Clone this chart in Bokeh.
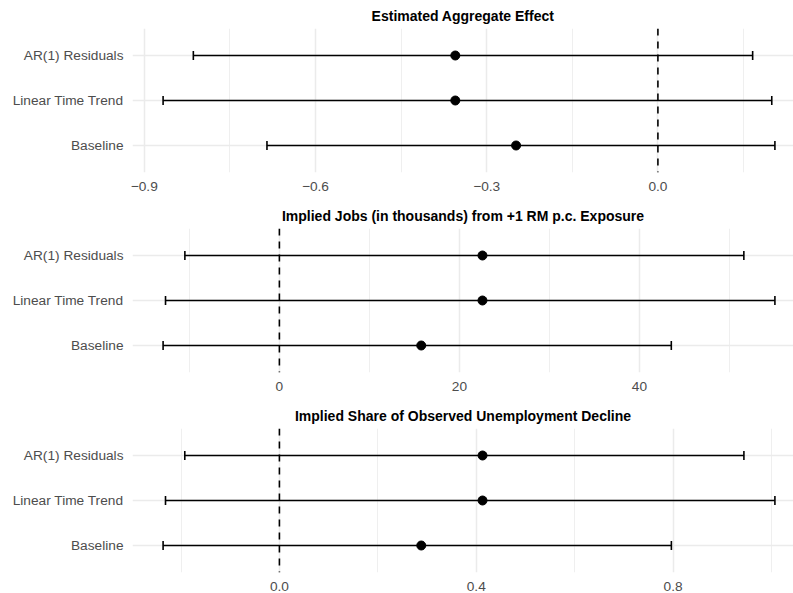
from bokeh.plotting import figure
from bokeh.layouts import column
from bokeh.models import (ColumnDataSource, Whisker, TeeHead, Span, FactorRange,
                          Range1d, FixedTicker)
from bokeh.embed import file_html
from bokeh.resources import INLINE

# ---------------- data ----------------
models = ["Baseline", "Linear Time Trend", "AR(1) Residuals"]

agg_title = "Estimated Aggregate Effect"
agg_est = [-0.2485, -0.355, -0.355]
agg_lo = [-0.685, -0.867, -0.814]
agg_hi = [0.205, 0.1995, 0.166]
agg_ticks = [-0.9, -0.6, -0.3, 0.0]
agg_tick_labels = ["\u22120.9", "\u22120.6", "\u22120.3", "0.0"]
agg_minor = [-0.75, -0.45, -0.15, 0.15]

jobs_title = "Implied Jobs (in thousands) from +1 RM p.c. Exposure"
jobs_est = [15.76, 22.56, 22.56]
jobs_lo = [-12.92, -12.65, -10.5]
jobs_hi = [43.54, 55.05, 51.6]
jobs_ticks = [0, 20, 40]
jobs_tick_labels = ["0", "20", "40"]
jobs_minor = [-10, 10, 30, 50]

share_title = "Implied Share of Observed Unemployment Decline"
share_est = [0.2883, 0.4128, 0.4128]
share_lo = [-0.2364, -0.2315, -0.1923]
share_hi = [0.7966, 1.007, 0.944]
share_ticks = [0.0, 0.4, 0.8]
share_tick_labels = ["0.0", "0.4", "0.8"]
share_minor = [-0.2, 0.2, 0.6, 1.0]

FONT = "Liberation Sans"
GRID = "#EBEBEB"
LW = 1.6


def panel(title, est, lo, hi, ticks, tick_labels, minor, height, border_bottom):
    src = ColumnDataSource(dict(model=models, est=est, lo=lo, hi=hi))
    low, high = min(lo), max(hi)
    span = high - low
    start = low - 0.05 * span
    full_end = high + 0.05 * span
    # panel in the reference is slightly cropped on the right
    end = start + (full_end - start) * 661.0 / 673.0

    p = figure(width=793, height=height, output_backend="svg", toolbar_location=None,
               y_range=FactorRange(factors=models, range_padding=0.2 / 3,
                                   range_padding_units="percent"),
               x_range=Range1d(start, end),
               min_border_left=132, min_border_right=0, min_border_top=28,
               min_border_bottom=border_bottom)
    p.outline_line_color = None
    p.background_fill_color = "white"
    p.border_fill_color = "white"

    p.title.text = title
    p.title.text_font = FONT
    p.title.text_font_size = "14px"
    p.title.text_font_style = "bold"
    p.title.text_color = "#000000"
    p.title.align = "center"
    p.title.standoff = 9

    p.xaxis.ticker = FixedTicker(ticks=ticks, minor_ticks=minor)
    p.xaxis.major_label_overrides = {t: l for t, l in zip(ticks, tick_labels)}
    for ax in (p.xaxis, p.yaxis):
        ax.axis_line_color = None
        ax.major_tick_line_color = None
        ax.minor_tick_line_color = None
        ax.major_label_text_font = FONT
        ax.major_label_text_font_size = "13.7px"
        ax.major_label_text_color = "#4D4D4D"
    p.xaxis.major_label_standoff = 3
    p.yaxis.major_label_standoff = 3

    p.xgrid.grid_line_color = GRID
    p.xgrid.grid_line_width = 1.5
    p.xgrid.minor_grid_line_color = GRID
    p.xgrid.minor_grid_line_width = 0.8
    p.ygrid.grid_line_color = GRID
    p.ygrid.grid_line_width = 1.5

    whisk = Whisker(source=src, base="model", lower="lo", upper="hi", dimension="width",
                    line_color="black", line_width=LW,
                    upper_head=TeeHead(size=9, line_color="black", line_width=LW),
                    lower_head=TeeHead(size=9, line_color="black", line_width=LW))
    p.add_layout(whisk)

    p.add_layout(Span(location=0, dimension="height", line_color="black",
                      line_width=LW, line_dash="7 6"))

    p.scatter(x="est", y="model", source=src, size=9, color="black")
    return p


p1 = panel(agg_title, agg_est, agg_lo, agg_hi, agg_ticks, agg_tick_labels, agg_minor, 200, 28)
p2 = panel(jobs_title, jobs_est, jobs_lo, jobs_hi, jobs_ticks, jobs_tick_labels, jobs_minor, 200, 28)
p3 = panel(share_title, share_est, share_lo, share_hi, share_ticks, share_tick_labels, share_minor, 193, 21)

p = column(p1, p2, p3, spacing=0)

open("out.html", "w").write(file_html(p, INLINE))
